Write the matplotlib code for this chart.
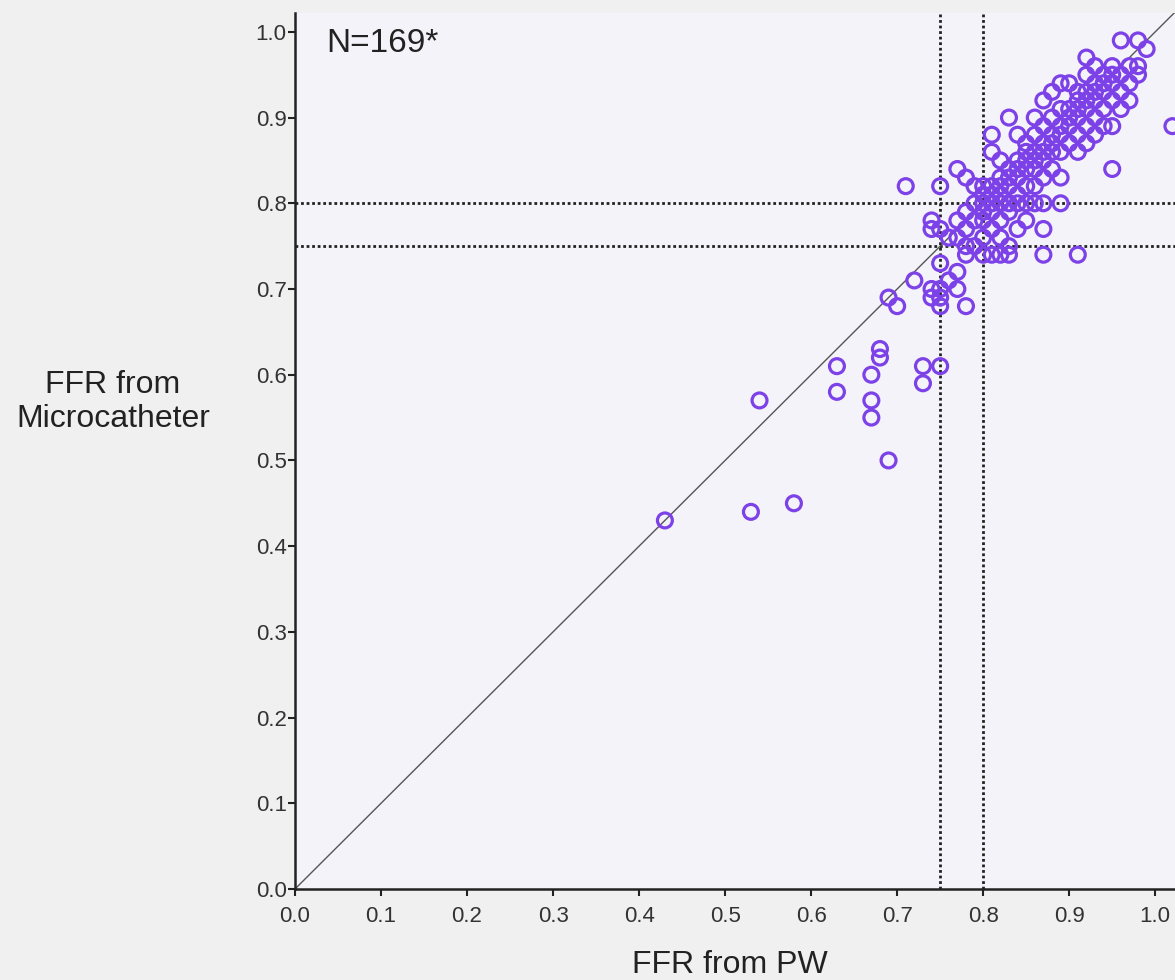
import matplotlib
matplotlib.use("Agg")
import matplotlib.pyplot as plt

plt.rcParams['font.family'] = ['Liberation Sans', 'DejaVu Sans']

# FFR from pressure wire (x) vs FFR from microcatheter (y)
ffr_pw = [
    # low / outlying region
    0.43, 0.53, 0.58, 0.54, 0.69, 0.63, 0.63, 0.67, 0.67, 0.67, 0.68, 0.68, 0.73, 0.73, 0.75,
    0.69, 0.70, 0.72, 0.74, 0.75, 0.74, 0.76, 0.77, 0.75, 0.78, 0.75, 0.77, 0.78, 0.75,
    # middle region
    0.71, 0.75, 0.77, 0.78, 0.79, 0.74, 0.74, 0.75, 0.77, 0.78, 0.76, 0.77, 0.78, 0.79, 0.79,
    0.79, 0.78, 0.80,
    0.81, 0.82, 0.83, 0.87, 0.91,
    # dense diagonal cluster
    0.80, 0.80, 0.80, 0.80, 0.80, 0.80,
    0.81, 0.81, 0.81, 0.81, 0.81, 0.81, 0.81,
    0.82, 0.82, 0.82, 0.82, 0.82, 0.82, 0.82,
    0.83, 0.83, 0.83, 0.83, 0.83, 0.83, 0.83,
    0.84, 0.84, 0.84, 0.84, 0.84, 0.84, 0.84,
    0.85, 0.85, 0.85, 0.85, 0.85, 0.85, 0.85,
    0.86, 0.86, 0.86, 0.86, 0.86, 0.86, 0.86,
    0.87, 0.87, 0.87, 0.87, 0.87, 0.87, 0.87, 0.87,
    0.88, 0.88, 0.88, 0.88, 0.88, 0.88,
    0.89, 0.89, 0.89, 0.89, 0.89, 0.89, 0.89,
    0.90, 0.90, 0.90, 0.90, 0.90,
    0.91, 0.91, 0.91, 0.91, 0.91, 0.91,
    0.92, 0.92, 0.92, 0.92, 0.92, 0.92, 0.92,
    0.93, 0.93, 0.93, 0.93, 0.93, 0.93,
    0.94, 0.94, 0.94, 0.94, 0.94,
    0.95, 0.95, 0.95, 0.95, 0.95, 0.95,
    0.96, 0.96, 0.96, 0.96,
    0.97, 0.97, 0.97,
    0.98, 0.98, 0.98,
    0.99,
    1.02,
]
ffr_micro = [
    0.43, 0.44, 0.45, 0.57, 0.50, 0.61, 0.58, 0.60, 0.57, 0.55, 0.63, 0.62, 0.61, 0.59, 0.61,
    0.69, 0.68, 0.71, 0.70, 0.70, 0.69, 0.71, 0.70, 0.68, 0.68, 0.73, 0.72, 0.74, 0.69,
    0.82, 0.82, 0.84, 0.83, 0.82, 0.78, 0.77, 0.77, 0.78, 0.77, 0.76, 0.76, 0.79, 0.80, 0.78,
    0.75, 0.75, 0.74,
    0.74, 0.74, 0.74, 0.74, 0.74,
    0.76, 0.78, 0.79, 0.80, 0.81, 0.82,
    0.77, 0.79, 0.80, 0.81, 0.82, 0.86, 0.88,
    0.76, 0.78, 0.80, 0.81, 0.82, 0.83, 0.85,
    0.75, 0.79, 0.80, 0.82, 0.83, 0.84, 0.90,
    0.77, 0.80, 0.81, 0.83, 0.84, 0.85, 0.88,
    0.78, 0.80, 0.82, 0.84, 0.85, 0.86, 0.87,
    0.80, 0.82, 0.84, 0.85, 0.86, 0.88, 0.90,
    0.77, 0.80, 0.83, 0.85, 0.86, 0.87, 0.89, 0.92,
    0.84, 0.86, 0.87, 0.88, 0.90, 0.93,
    0.80, 0.83, 0.86, 0.88, 0.89, 0.91, 0.94,
    0.87, 0.89, 0.90, 0.91, 0.94,
    0.86, 0.88, 0.90, 0.91, 0.92, 0.93,
    0.87, 0.89, 0.91, 0.92, 0.93, 0.95, 0.97,
    0.88, 0.90, 0.92, 0.93, 0.94, 0.96,
    0.89, 0.91, 0.93, 0.94, 0.95,
    0.84, 0.89, 0.92, 0.94, 0.95, 0.96,
    0.91, 0.93, 0.95, 0.99,
    0.92, 0.94, 0.96,
    0.95, 0.96, 0.99,
    0.98,
    0.89,
]
assert len(ffr_pw) == len(ffr_micro)
cutoffs = [0.75, 0.80]
ticks = [0.0, 0.1, 0.2, 0.3, 0.4, 0.5, 0.6, 0.7, 0.8, 0.9, 1.0]
tick_labels = ["0.0", "0.1", "0.2", "0.3", "0.4", "0.5", "0.6", "0.7", "0.8", "0.9", "1.0"]

fig = plt.figure(figsize=(11.75, 9.8), dpi=100, facecolor='#f0f0f0')
ax = fig.add_axes([295/1175, 91/980, 1 - 295/1175, (889-13)/980])
ax.set_facecolor('#f5f3fa')
ax.set_xlim(0, 1.023)
ax.set_ylim(0, 1.022)

ax.plot([0, 1.1], [0, 1.1], color='#555555', lw=1.0, zorder=2)
for c in cutoffs:
    ax.axvline(c, color='#222222', lw=2.0, ls=(0, (1.0, 1.0)), zorder=1)
    ax.axhline(c, color='#222222', lw=2.0, ls=(0, (1.0, 1.0)), zorder=1)

ax.scatter(ffr_pw, ffr_micro, s=115, facecolors='none', edgecolors='#7c42e8',
           linewidths=2.3, zorder=3, clip_on=False)

for side in ['top', 'right']:
    ax.spines[side].set_visible(False)
for side in ['left', 'bottom']:
    ax.spines[side].set_linewidth(1.8)
    ax.spines[side].set_color('#222222')

ax.set_xticks(ticks)
ax.set_xticklabels(tick_labels)
ax.set_yticks(ticks)
ax.set_yticklabels(tick_labels)
ax.tick_params(axis='both', direction='out', length=5, width=1.5, color='#222222',
               labelsize=16, labelcolor='#333333')
ax.tick_params(axis='x', pad=7)
ax.tick_params(axis='y', pad=1)

ax.text(0.036, 0.987, "N=169*", transform=ax.transData, fontsize=24,
        color='#222222', va='center', ha='left')

fig.text(730/1175, 1 - 965/980, "FFR from PW", fontsize=23, color='#222222',
         ha='center', va='center')
fig.text(113/1175, 1 - 402/980, "FFR from\nMicrocatheter", fontsize=23,
         color='#222222', ha='center', va='center', linespacing=1.15)

fig.savefig("out.png", dpi=100, facecolor=fig.get_facecolor())
